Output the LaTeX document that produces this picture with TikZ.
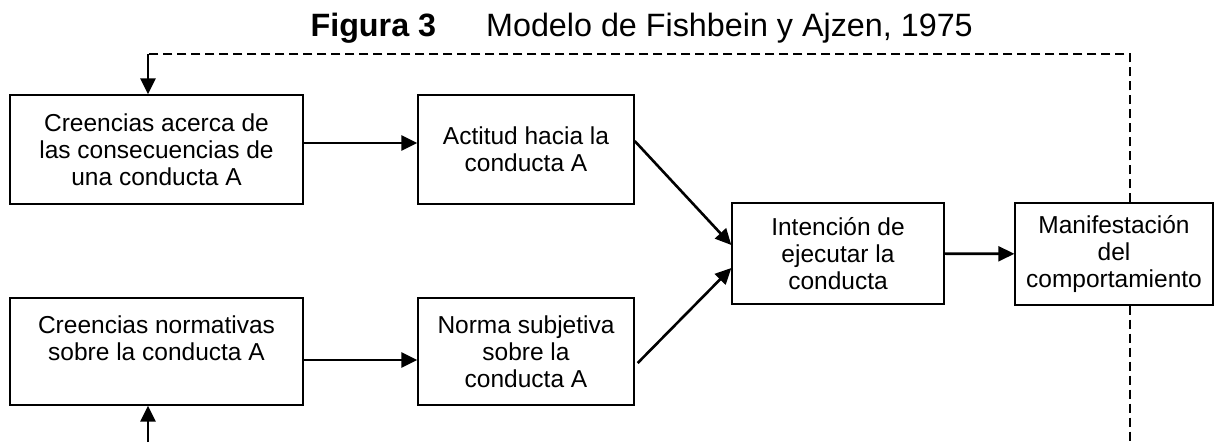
\documentclass[tikz,border=0pt]{standalone}
\usepackage{fontspec}
\setmainfont{Liberation Sans}
\usetikzlibrary{arrows.meta}

\begin{document}
\begin{tikzpicture}[x=1pt, y=-1pt, every node/.style={font=\fontsize{24.5}{27}\selectfont},
    caja/.style={draw, line width=1.4pt, align=center, inner sep=0pt},
    flecha/.style={-{Triangle[length=16pt, width=15pt]}, line width=2.6pt},
    retro/.style={dashed, dash pattern=on 9pt off 5pt, line width=1.3pt}]
    \useasboundingbox (0,0) rectangle (1214,442);
    \node [anchor=base west, font=\fontsize{32.3}{35}\selectfont] (titulo) at (307,36) {\textbf{Figura 3}\hspace{50pt}Modelo de Fishbein y Ajzen, 1975};
    \node [caja, minimum width=293pt, minimum height=109pt] (creencias) at (156.5,149.5) {Creencias acerca de\\las consecuencias de\\una conducta A};
    \node [caja, minimum width=216pt, minimum height=109pt] (actitud) at (526,149.5) {Actitud hacia la\\conducta A};
    \node [caja, minimum width=293pt, minimum height=107pt] (normativas) at (156.5,351.5) {Creencias normativas\\sobre la conducta A\\ \mbox{}};
    \node [caja, minimum width=216pt, minimum height=107pt] (norma) at (526,351.5) {Norma subjetiva\\sobre la\\conducta A};
    \node [caja, minimum width=212pt, minimum height=101pt] (intencion) at (838,253.5) {Intención de\\ejecutar la\\conducta};
    \node [caja, minimum width=198pt, minimum height=102pt] (manifest) at (1114,254) {Manifestación\\del\\comportamiento};
    \coordinate (esquina) at (148,54);
    \coordinate (abajo) at (148,442);
    \coordinate (fondo) at (1130,442);
    \draw [flecha] ([yshift=6.5pt]creencias.east) -- ([yshift=6.5pt]actitud.west);
    \draw [flecha] ([yshift=-8.5pt]normativas.east) -- ([yshift=-8.5pt]norma.west);
    \draw [flecha] ([yshift=8.5pt]actitud.east) -- ([yshift=8.5pt]intencion.west);
    \draw [flecha] ([xshift=3pt, yshift=-11.5pt]norma.east) -- ([yshift=-14.5pt]intencion.west);
    \draw [flecha] (intencion) -- (manifest);
    % retroalimentacion
    \draw [retro] ([xshift=16pt]manifest.north) |- (esquina);
    \draw [flecha] (esquina) -- (esquina |- creencias.north);
    \draw [retro] ([xshift=16pt]manifest.south) -- (fondo);
    \draw [flecha] (abajo) -- (abajo |- normativas.south);
\end{tikzpicture}
\end{document}
